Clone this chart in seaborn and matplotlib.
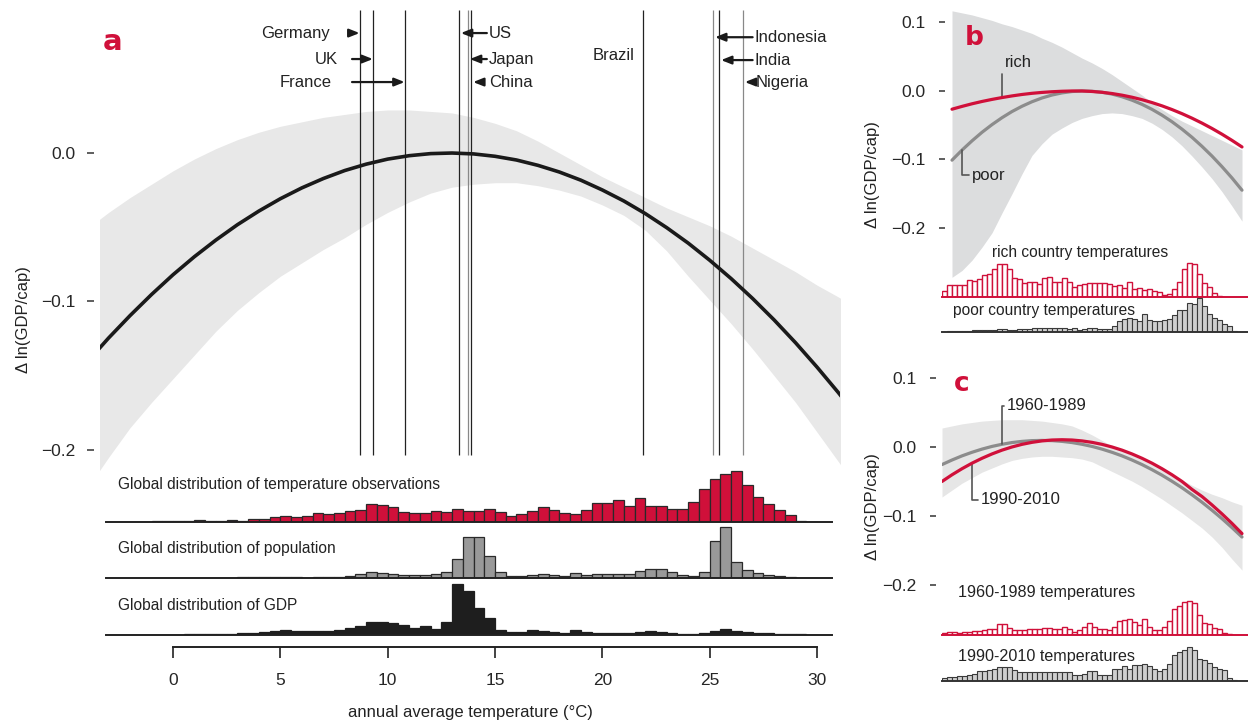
import numpy as np
import pandas as pd
import matplotlib
matplotlib.use("Agg")
import matplotlib.pyplot as plt
import seaborn as sns


# -----------------------------
# Data
# -----------------------------
# panel a: response of ln(GDP/cap) to annual temperature
temp_grid = list(range(-4, 33))
response_a = [
    -0.1408, -0.1246, -0.1095, -0.0953, -0.0820, -0.0698, -0.0586, -0.0483,
    -0.0391, -0.0308, -0.0235, -0.0172, -0.0118, -0.0075, -0.0041, -0.0018,
    -0.0004, 0.0000, -0.0006, -0.0022, -0.0047, -0.0083, -0.0128, -0.0183,
    -0.0249, -0.0323, -0.0408, -0.0503, -0.0607, -0.0722, -0.0846, -0.0980,
    -0.1124, -0.1278, -0.1442, -0.1615, -0.1798,
]
band_a_upper = [
    -0.051, -0.040, -0.030, -0.021, -0.012, -0.004, 0.003, 0.009, 0.014, 0.018,
    0.021, 0.024, 0.026, 0.028, 0.029, 0.029, 0.028, 0.027, 0.024, 0.020,
    0.015, 0.008, 0.000, -0.008, -0.016, -0.023, -0.030, -0.037, -0.043, -0.049,
    -0.056, -0.064, -0.072, -0.080, -0.089, -0.097, -0.106,
]
band_a_lower = [
    -0.226, -0.205, -0.185, -0.168, -0.152, -0.136, -0.120, -0.106, -0.094, -0.083,
    -0.074, -0.065, -0.057, -0.048, -0.040, -0.033, -0.027, -0.023, -0.021, -0.020,
    -0.020, -0.022, -0.025, -0.029, -0.035, -0.042, -0.052, -0.066, -0.083, -0.099,
    -0.115, -0.132, -0.150, -0.168, -0.188, -0.208, -0.228,
]

# panel a histograms, 0.5 degC bins starting at -3.0
bins_a = np.arange(-3.0, 30.0, 0.5)
hist_temp_obs = [
    0.005, 0.005, 0.005, 0.005, 0.01, 0.02,
    0.01, 0.02, 0.04, 0.025, 0.025, 0.03, 0.025, 0.05,
    0.05, 0.10, 0.12, 0.105, 0.125, 0.18, 0.16, 0.18,
    0.22, 0.245, 0.36, 0.335, 0.30, 0.20, 0.18, 0.18,
    0.21, 0.197, 0.25, 0.217, 0.217, 0.25, 0.19, 0.11,
    0.15, 0.224, 0.303, 0.243, 0.178, 0.158, 0.23, 0.38,
    0.38, 0.44, 0.316, 0.48, 0.316, 0.322, 0.263, 0.263,
    0.388, 0.651, 0.836, 0.941, 1.0, 0.724, 0.5, 0.349,
    0.243, 0.145, 0.026, 0.005,
]
hist_population = [
    0.002, 0.002, 0.002, 0.002, 0.002, 0.002,
    0.002, 0.002, 0.004, 0.004, 0.006, 0.006, 0.013, 0.01,
    0.02, 0.026, 0.026, 0.013, 0.007, 0.013, 0.013, 0.026,
    0.046, 0.078, 0.118, 0.105, 0.078, 0.059, 0.059, 0.068,
    0.078, 0.11, 0.38, 0.81, 0.80, 0.43, 0.11, 0.046,
    0.033, 0.059, 0.078, 0.059, 0.04, 0.098, 0.059, 0.072,
    0.072, 0.072, 0.072, 0.13, 0.17, 0.17, 0.118, 0.065,
    0.04, 0.118, 0.73, 1.0, 0.31, 0.157, 0.098, 0.052,
    0.033, 0.02, 0.007, 0.003,
]
hist_gdp = [
    0.002, 0.002, 0.002, 0.002, 0.002, 0.002,
    0.004, 0.01, 0.015, 0.015, 0.015, 0.02, 0.04, 0.046,
    0.059, 0.085, 0.098, 0.085, 0.072, 0.085, 0.085, 0.105,
    0.13, 0.18, 0.26, 0.26, 0.235, 0.2, 0.13, 0.17,
    0.127, 0.26, 1.0, 0.873, 0.535, 0.338, 0.089, 0.051,
    0.064, 0.089, 0.07, 0.051, 0.045, 0.096, 0.057, 0.032,
    0.032, 0.032, 0.032, 0.064, 0.083, 0.064, 0.045, 0.025,
    0.025, 0.045, 0.083, 0.121, 0.083, 0.057, 0.045, 0.032,
    0.019, 0.013, 0.013, 0.005,
]

countries = ["Germany", "UK", "France", "US", "Japan", "China",
             "Brazil", "Indonesia", "India", "Nigeria"]
country_temp = [8.71, 9.33, 10.81, 13.33, 13.75, 13.9, 21.9, 25.17, 25.45, 26.56]

# panel b: rich vs poor countries
grid_b = list(range(2, 32))
rich_b = [
    -0.0266, -0.0225, -0.0187, -0.0153, -0.0123, -0.0096, -0.0072, -0.0051,
    -0.0034, -0.0021, -0.0011, -0.0004, 0.0, 0.0, -0.0007, -0.0019, -0.0037,
    -0.0061, -0.0091, -0.0127, -0.0169, -0.0217, -0.0271, -0.0331, -0.0397,
    -0.0469, -0.0547, -0.0631, -0.0721, -0.0817,
]
poor_b = [
    -0.101, -0.0863, -0.0728, -0.0603, -0.0491, -0.039, -0.030, -0.0223,
    -0.0157, -0.0102, -0.0059, -0.0028, -0.0008, 0.0, -0.0004, -0.0019,
    -0.0045, -0.0084, -0.0134, -0.0195, -0.0268, -0.0353, -0.0449, -0.0557,
    -0.0676, -0.0808, -0.095, -0.1105, -0.127, -0.1448,
]
band_b_upper = [
    0.117, 0.114, 0.111, 0.107, 0.103, 0.098, 0.094, 0.089, 0.084, 0.077,
    0.071, 0.064, 0.056, 0.048, 0.041, 0.033, 0.024, 0.014, 0.004, -0.006,
    -0.017, -0.027, -0.036, -0.044, -0.051, -0.058, -0.065, -0.072, -0.079, -0.086,
]
band_b_lower = [
    -0.272, -0.262, -0.247, -0.228, -0.207, -0.178, -0.150, -0.121, -0.094, -0.077,
    -0.063, -0.054, -0.046, -0.040, -0.036, -0.033, -0.032, -0.033, -0.036, -0.040,
    -0.047, -0.056, -0.067, -0.080, -0.095, -0.111, -0.128, -0.147, -0.168, -0.190,
]
bins_bc = np.arange(1.0, 31.0, 0.5)
hist_rich = [
    0.17, 0.35, 0.35, 0.35, 0.35, 0.50, 0.47, 0.53, 0.65, 0.67,
    0.83, 0.97, 0.97, 0.83, 0.57, 0.52, 0.42, 0.43, 0.43, 0.37,
    0.55, 0.58, 0.45, 0.43, 0.57, 0.45, 0.30, 0.35, 0.37, 0.40,
    0.41, 0.42, 0.40, 0.37, 0.32, 0.35, 0.28, 0.43, 0.23, 0.27,
    0.22, 0.25, 0.18, 0.15, 0.05, 0.10, 0.25, 0.45, 0.82, 1.0,
    0.97, 0.68, 0.40, 0.30, 0.13, 0.03, 0.01,
]
hist_poor = [
    0.01, 0.02, 0.02, 0.03, 0.03, 0.04, 0.05, 0.05, 0.06, 0.07,
    0.07, 0.09, 0.08, 0.05, 0.05, 0.08, 0.08, 0.09, 0.11, 0.11,
    0.11, 0.11, 0.12, 0.11, 0.11, 0.10, 0.11, 0.07, 0.09, 0.13,
    0.12, 0.09, 0.08, 0.10, 0.17, 0.32, 0.38, 0.40, 0.38, 0.32,
    0.52, 0.34, 0.33, 0.33, 0.34, 0.39, 0.49, 0.64, 0.66, 0.85,
    0.83, 1.0, 0.77, 0.52, 0.42, 0.36, 0.24, 0.17, 0.04, 0.01,
]

# panel c: early vs late period
grid_c = list(range(1, 32))
early_c = [
    -0.025, -0.0184, -0.0124, -0.0072, -0.0026, 0.0013, 0.0044, 0.0069, 0.0086,
    0.0097, 0.010, 0.0097, 0.0086, 0.0069, 0.0044, 0.0013, -0.0026, -0.0072,
    -0.0124, -0.0184, -0.025, -0.0324, -0.0404, -0.0492, -0.0586, -0.0688,
    -0.0796, -0.0912, -0.1034, -0.1164, -0.130,
]
late_c = [
    -0.0495, -0.0398, -0.031, -0.023, -0.0159, -0.0096, -0.0041, 0.0005, 0.0043,
    0.0072, 0.0093, 0.0106, 0.011, 0.0106, 0.0093, 0.0072, 0.0043, 0.0005,
    -0.0041, -0.0096, -0.0159, -0.023, -0.031, -0.0398, -0.0495, -0.061,
    -0.0713, -0.0835, -0.0965, -0.1103, -0.125,
]
band_c_upper = [
    0.028, 0.031, 0.034, 0.036, 0.038, 0.039, 0.040, 0.040, 0.040, 0.039,
    0.038, 0.036, 0.034, 0.031, 0.025, 0.018, 0.010, 0.002, -0.005, -0.011,
    -0.018, -0.025, -0.032, -0.039, -0.047, -0.055, -0.062, -0.068, -0.073,
    -0.079, -0.084,
]
band_c_lower = [
    -0.072, -0.062, -0.052, -0.044, -0.036, -0.030, -0.024, -0.019, -0.016, -0.014,
    -0.013, -0.013, -0.014, -0.015, -0.017, -0.021, -0.028, -0.035, -0.042, -0.049,
    -0.057, -0.066, -0.075, -0.085, -0.095, -0.106, -0.117, -0.130, -0.145,
    -0.162, -0.178,
]
hist_early = [
    0.07, 0.10, 0.10, 0.07, 0.08, 0.08, 0.12, 0.12, 0.14, 0.17,
    0.17, 0.31, 0.31, 0.20, 0.15, 0.15, 0.14, 0.18, 0.19, 0.17,
    0.21, 0.22, 0.18, 0.18, 0.24, 0.19, 0.09, 0.14, 0.25, 0.34,
    0.25, 0.19, 0.17, 0.14, 0.25, 0.40, 0.45, 0.47, 0.39, 0.30,
    0.48, 0.23, 0.16, 0.16, 0.23, 0.42, 0.78, 0.87, 0.97, 1.0,
    0.95, 0.60, 0.35, 0.33, 0.20, 0.19, 0.05, 0.02, 0.005,
]
hist_late = [
    0.08, 0.12, 0.13, 0.15, 0.15, 0.19, 0.22, 0.29, 0.29, 0.33,
    0.34, 0.41, 0.40, 0.41, 0.32, 0.26, 0.28, 0.26, 0.26, 0.26,
    0.26, 0.26, 0.26, 0.26, 0.26, 0.26, 0.17, 0.17, 0.21, 0.29,
    0.29, 0.17, 0.17, 0.19, 0.34, 0.34, 0.43, 0.36, 0.46, 0.46,
    0.49, 0.44, 0.34, 0.30, 0.35, 0.50, 0.78, 0.86, 0.91, 1.0,
    0.92, 0.66, 0.61, 0.52, 0.41, 0.36, 0.32, 0.08, 0.03, 0.01,
]

# -----------------------------
# Style
# -----------------------------
CRIMSON = "#D0103A"
DARK = "#1a1a1a"
TXT = "#222222"
GREY_LINE = "#8C8C8C"
FS_TICK = 12.5
FS_LABEL = 12
FS_HIST = 11.2

sns.set_theme(style="white")
plt.rcParams["font.family"] = ["Liberation Sans", "DejaVu Sans"]
plt.rcParams["axes.unicode_minus"] = True

W, H = 1248, 723
fig = plt.figure(figsize=(W / 100, H / 100), dpi=100)


def add_ax(x0, y0, x1, y1):
    # axes from pixel box (top-left origin)
    return fig.add_axes([x0 / W, 1 - y1 / H, (x1 - x0) / W, (y1 - y0) / H])


def draw_hist(ax, left_edges, heights, face, edge, lw, xlim, base_color, top=1.18):
    edges = np.append(left_edges[:len(heights)], left_edges[len(heights) - 1] + 0.5)
    df = pd.DataFrame({"temp": edges[:-1] + 0.25, "share": heights})
    sns.histplot(data=df, x="temp", weights="share", bins=list(edges), ax=ax,
                 color=face, edgecolor=edge, linewidth=lw, alpha=1, element="bars")
    ax.set_xlim(*xlim)
    ax.set_ylim(0, top)
    ax.set_xticks([])
    ax.set_yticks([])
    ax.set_xlabel("")
    ax.set_ylabel("")
    ax.patch.set_alpha(0)
    for s in ["top", "left", "right"]:
        ax.spines[s].set_visible(False)
    ax.spines["bottom"].set_color(base_color)
    ax.spines["bottom"].set_linewidth(1.4)
    return ax


def ylabel_text(x, y):
    fig.text(x / W, 1 - y / H, "Δ ln(GDP/cap)", rotation=90, ha="center", va="center",
             fontsize=FS_LABEL, color=TXT)


def panel_letter(x, y, letter, size):
    fig.text(x / W, 1 - y / H, letter, ha="center", va="center", fontsize=size,
             fontweight="bold", color=CRIMSON, family="DejaVu Sans")


# -----------------------------
# Panel a
# -----------------------------
xlim_a = (-3.40, 31.07)
ax_a = add_ax(100, 5, 840, 470)
ax_a.fill_between(temp_grid, band_a_lower, band_a_upper, color="#E8E8E8", lw=0, zorder=1)
line_cols = ["#222222", "#222222", "#222222", "#222222", "#888888", "#222222",
             "#222222", "#888888", "#222222", "#888888"]
ax_a.vlines(country_temp, -0.2034, 0.0963, colors=line_cols, lw=0.9, zorder=2)
sns.lineplot(x=temp_grid, y=response_a, ax=ax_a, color=DARK, lw=2.6, zorder=3)
ax_a.set_xlim(*xlim_a)
ax_a.set_ylim(-0.2135, 0.0997)
ax_a.set_xticks([])
ax_a.set_yticks([0.0, -0.1, -0.2])
ax_a.tick_params(axis="y", length=5, width=1.1, pad=9, labelsize=FS_TICK, color="#333333",
                 left=True)
for s in ax_a.spines.values():
    s.set_visible(False)
ax_a.spines["left"].set_position(("outward", 4))
ax_a.set_xlabel("")
ax_a.set_ylabel("")

# country labels: (text x, text y, ha, arrow tail x or None)
label_layout = [
    (7.31, 0.0808, "right", 8.24),
    (7.69, 0.0633, "right", 8.34),
    (7.41, 0.0478, "right", 8.34),
    (14.72, 0.0808, "left", 14.62),
    (14.72, 0.0633, "left", 14.62),
    (14.72, 0.0478, "left", 14.35),
    (19.56, 0.0660, "left", None),
    (27.10, 0.0780, "left", 27.0),
    (27.10, 0.0626, "left", 27.0),
    (27.15, 0.0478, "left", 26.97),
]
arrow_kw = dict(arrowstyle="-|>,head_length=0.55,head_width=0.22", color=DARK,
                lw=1.6, shrinkA=0, shrinkB=0, mutation_scale=11)
for name, t, (tx, ty, ha, tail) in zip(countries, country_temp, label_layout):
    ax_a.text(tx, ty, name, ha=ha, va="center", fontsize=FS_LABEL, color=TXT)
    if tail is not None:
        tip = t + 0.08 if tail > t else t - 0.02
        ax_a.annotate("", xy=(tip, ty), xytext=(tail, ty), arrowprops=arrow_kw)

ylabel_text(24, 320)
panel_letter(113, 42, "a", 21)

# histograms under panel a
h1 = draw_hist(add_ax(100, 462, 840, 522), bins_a, hist_temp_obs, CRIMSON, "#2a2a2a", 0.9,
               xlim_a, "#222222")
h2 = draw_hist(add_ax(100, 518, 840, 578), bins_a, hist_population, "#999999", "#2a2a2a", 0.9,
               xlim_a, "#222222")
h3 = draw_hist(add_ax(100, 575, 840, 635), bins_a, hist_gdp, "#1e1e1e", "#1e1e1e", 0.9,
               xlim_a, "#222222")
for hx in (h1, h2, h3):
    hx.spines["bottom"].set_bounds(-3.1, 30.7)

fig.text(118 / W, 1 - 485 / H, "Global distribution of temperature observations",
         ha="left", va="center", fontsize=FS_HIST, color=TXT)
fig.text(118 / W, 1 - 548 / H, "Global distribution of population",
         ha="left", va="center", fontsize=FS_HIST, color=TXT)
fig.text(118 / W, 1 - 605 / H, "Global distribution of GDP",
         ha="left", va="center", fontsize=FS_HIST, color=TXT)

# temperature axis
ax_x = add_ax(100, 600, 840, 647)
ax_x.set_xlim(*xlim_a)
ax_x.set_yticks([])
ax_x.set_xticks([0, 5, 10, 15, 20, 25, 30])
ax_x.patch.set_alpha(0)
for s in ["top", "left", "right"]:
    ax_x.spines[s].set_visible(False)
ax_x.spines["bottom"].set_bounds(0, 30)
ax_x.spines["bottom"].set_color("#222222")
ax_x.spines["bottom"].set_linewidth(1.4)
ax_x.tick_params(axis="x", bottom=True, direction="out", length=8, width=1.2,
                 pad=11, labelsize=FS_TICK, color="#222222")
ax_x.set_xlabel("annual average temperature (°C)", fontsize=FS_LABEL, labelpad=12,
                color=TXT)

# -----------------------------
# Panel b
# -----------------------------
xlim_bc = (1.0, 31.6)
ax_b = add_ax(942, 5, 1248, 297)
ax_b.fill_between(grid_b, band_b_lower, band_b_upper, color="#DCDDDE", lw=0, zorder=1)
sns.lineplot(x=grid_b, y=poor_b, ax=ax_b, color=GREY_LINE, lw=2.3, zorder=3)
sns.lineplot(x=grid_b, y=rich_b, ax=ax_b, color=CRIMSON, lw=2.3, zorder=4)
ax_b.set_xlim(*xlim_bc)
ax_b.set_ylim(-0.3007, 0.1255)
ax_b.set_xticks([])
ax_b.set_yticks([0.1, 0.0, -0.1, -0.2])
ax_b.tick_params(axis="y", left=True, direction="inout", length=5, width=1.1, pad=9.5,
                 labelsize=FS_TICK, color="#333333")
for s in ax_b.spines.values():
    s.set_visible(False)
ax_b.set_xlabel("")
ax_b.set_ylabel("")

leader_kw = dict(arrowstyle="-", color="#555555", lw=1.2, shrinkA=0, shrinkB=0,
                 relpos=(0, 0.5), connectionstyle="angle,angleA=0,angleB=90,rad=0")
ax_b.annotate("rich", xy=(grid_b[5], rich_b[5]), xytext=(7.3, 0.041), fontsize=FS_LABEL,
              va="center", ha="left", color=TXT, arrowprops=leader_kw)
ax_b.annotate("poor", xy=(grid_b[1], poor_b[1]), xytext=(4.0, -0.123), fontsize=FS_LABEL,
              va="center", ha="left", color=TXT, arrowprops=leader_kw)

ylabel_text(872, 175)
panel_letter(974, 38, "b", 19)

draw_hist(add_ax(942, 257, 1248, 297), bins_bc, hist_rich, "white", CRIMSON, 1.0,
          xlim_bc, CRIMSON)
draw_hist(add_ax(942, 292, 1248, 332), bins_bc, hist_poor, "#CFCFCF", "#3a3a3a", 0.8,
          xlim_bc, "#333333")
fig.text(992 / W, 1 - 253 / H, "rich country temperatures", ha="left", va="center",
         fontsize=FS_HIST, color=TXT)
fig.text(953 / W, 1 - 310 / H, "poor country temperatures", ha="left", va="center",
         fontsize=FS_HIST, color=TXT)

# -----------------------------
# Panel c
# -----------------------------
ax_c = add_ax(942, 365, 1248, 635)
ax_c.fill_between(grid_c, band_c_lower, band_c_upper, color="#E6E6E6", lw=0, zorder=1)
sns.lineplot(x=grid_c, y=early_c, ax=ax_c, color=GREY_LINE, lw=2.3, zorder=3)
sns.lineplot(x=grid_c, y=late_c, ax=ax_c, color=CRIMSON, lw=2.3, zorder=4)
ax_c.set_xlim(*xlim_bc)
ax_c.set_ylim(-0.272, 0.1193)
ax_c.set_xticks([])
ax_c.set_yticks([0.1, 0.0, -0.1, -0.2])
ax_c.tick_params(axis="y", left=True, direction="out", length=4.3, width=1.1, pad=10,
                 labelsize=FS_TICK, color="#333333")
for s in ax_c.spines.values():
    s.set_visible(False)
ax_c.spines["left"].set_position(("outward", 4))
ax_c.set_xlabel("")
ax_c.set_ylabel("")

ax_c.annotate("1960-1989", xy=(grid_c[6], early_c[6]), xytext=(7.5, 0.060),
              fontsize=FS_LABEL, va="center", ha="left", color=TXT, arrowprops=leader_kw)
ax_c.annotate("1990-2010", xy=(grid_c[3], late_c[3]), xytext=(4.9, -0.076),
              fontsize=FS_LABEL, va="center", ha="left", color=TXT, arrowprops=leader_kw)

ylabel_text(872, 507)
panel_letter(962, 384, "c", 19)

draw_hist(add_ax(942, 595, 1248, 635), bins_bc, hist_early, "white", CRIMSON, 1.0,
          xlim_bc, CRIMSON)
draw_hist(add_ax(942, 641, 1248, 681), bins_bc, hist_late, "#CFCFCF", "#3a3a3a", 0.8,
          xlim_bc, "#333333")
fig.text(958 / W, 1 - 592 / H, "1960-1989 temperatures", ha="left", va="center",
         fontsize=FS_HIST + 0.4, color=TXT)
fig.text(958 / W, 1 - 656 / H, "1990-2010 temperatures", ha="left", va="center",
         fontsize=FS_HIST + 0.4, color=TXT)

fig.savefig("out.png", dpi=100)
